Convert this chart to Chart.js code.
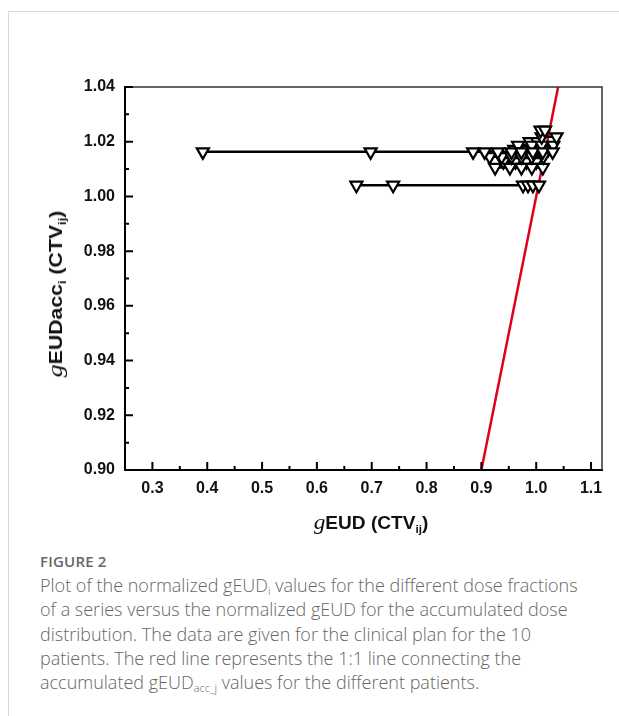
<!DOCTYPE html>
<html>
<head>
<meta charset="utf-8">
<script src="https://cdn.jsdelivr.net/npm/chart.js@4.4.0/dist/chart.umd.min.js"></script>
<style>
  html, body { margin: 0; padding: 0; background: #fff; }
  body { width: 619px; height: 716px; position: relative; overflow: hidden; }
  .card { position: absolute; left: 8px; top: 11px; width: 640px; height: 740px;
          border-top: 1px solid #d9d9d9; border-left: 1px solid #d9d9d9; }
  #wrap { position: absolute; left: 0; top: 0; width: 619px; height: 540px; }
  .ytitle { position: absolute; left: 55px; top: 294px; transform: translate(-50%, -50%) rotate(-90deg) scaleX(1.18);
            white-space: nowrap; font-family: "Liberation Sans", Arial, sans-serif; font-weight: bold; font-size: 18px; color: #111; }
  .xtitle { position: absolute; left: 371px; top: 522px; transform: translate(-50%, -50%) scaleX(1.06);
            white-space: nowrap; font-family: "Liberation Sans", Arial, sans-serif; font-weight: bold; font-size: 18px; color: #111; }
  .g { font-family: "Liberation Serif", serif; font-style: italic; font-weight: normal; font-size: 22px; }
  .ytitle sub, .xtitle sub { font-size: 11px; vertical-align: -4px; line-height: 0; }
  .fig { position: absolute; left: 40px; top: 551px; font-family: "Open Sans", sans-serif; font-size: 15px;
         color: #666; font-weight: 600; letter-spacing: 0.2px; white-space: nowrap; }
  .cap { position: absolute; left: 40px; top: 573px; width: 580px; font-family: "Open Sans", sans-serif;
         font-size: 18px; line-height: 24.3px; color: #666; font-weight: 300; letter-spacing: 0; white-space: nowrap; }
  .cap sub { font-size: 11px; vertical-align: -3px; line-height: 0; }
</style>
</head>
<body>
<div class="card"></div>
<div id="wrap"><canvas id="c" width="619" height="540"></canvas></div>
<div class="ytitle"><span class="g">g</span>EUDacc<sub>i</sub> (CTV<sub>ij</sub>)</div>
<div class="xtitle"><span class="g">g</span>EUD (CTV<sub>ij</sub>)</div>
<div class="fig">FIGURE 2</div>
<div class="cap">Plot of the normalized gEUD<sub>i</sub> values for the different dose fractions<br>of a series versus the normalized gEUD for the accumulated dose<br>distribution. The data are given for the clinical plan for the 10<br>patients. The red line represents the 1:1 line connecting the<br>accumulated gEUD<sub>acc_j</sub> values for the different patients.</div>
<script>
// Tick labels
const xTicks = [0.3, 0.4, 0.5, 0.6, 0.7, 0.8, 0.9, 1.0, 1.1];
const yTicks = [0.90, 0.92, 0.94, 0.96, 0.98, 1.00, 1.02, 1.04];

// Accumulated gEUD (y) per patient
const patients = ['P1', 'P2', 'P3', 'P4', 'P5', 'P6', 'P7', 'P8', 'P9', 'P10'];
const accGEUD = [1.0163, 1.0041, 1.0242, 1.0218, 1.0187, 1.0145, 1.0106, 1.0127, 1.0200, 1.0172];

// Fraction gEUD values (x) per patient
const p1Fractions = [0.392, 0.698, 0.885, 0.906, 0.930, 0.955, 0.973, 0.994, 1.012, 1.030];
const p2Fractions = [0.672, 0.739, 0.976, 0.985, 0.994, 1.005];
const p3Fractions = [1.008, 1.016];
const p4Fractions = [1.010, 1.037];
const p5Fractions = [0.967, 0.992, 1.010, 1.031];
const p6Fractions = [0.915, 0.937, 0.955, 0.973, 0.992, 1.013];
const p7Fractions = [0.925, 0.952, 0.973, 0.992, 1.012];
const p8Fractions = [0.940, 0.962, 0.982, 1.000];
const p9Fractions = [0.988, 1.002];
const p10Fractions = [0.960, 0.985, 1.004, 1.022];
const fractionSets = [p1Fractions, p2Fractions, p3Fractions, p4Fractions, p5Fractions,
                      p6Fractions, p7Fractions, p8Fractions, p9Fractions, p10Fractions];

// 1:1 identity line
const identityLine = [0.90, 1.04];

const datasets = patients.map((name, i) => ({
  label: name,
  data: fractionSets[i].map(x => ({ x: x, y: accGEUD[i] })),
  showLine: true,
  borderColor: '#000',
  borderWidth: 2.5,
  pointStyle: 'triangle',
  rotation: 180,
  pointRadius: 7,
  pointBorderWidth: 2.2,
  pointBackgroundColor: '#fff',
  pointBorderColor: '#000',
  order: 1
}));
datasets.push({
  label: '1:1',
  data: identityLine.map(v => ({ x: v, y: v })),
  showLine: true,
  borderColor: '#e3001b',
  borderWidth: 2.5,
  pointRadius: 0,
  order: 5
});

const tickPlugin = {
  id: 'inwardTicks',
  afterDraw(chart) {
    const ctx = chart.ctx;
    const a = chart.chartArea;
    const xs = chart.scales.x, ys = chart.scales.y;
    ctx.save();
    ctx.strokeStyle = '#333';
    ctx.lineWidth = 1.5;
    ctx.beginPath();
    ctx.moveTo(a.left, a.top); ctx.lineTo(a.right, a.top); ctx.lineTo(a.right, a.bottom);
    ctx.stroke();
    ctx.strokeStyle = '#000';
    ctx.lineWidth = 2;
    ctx.beginPath();
    xTicks.forEach(v => {
      const p = xs.getPixelForValue(v);
      ctx.moveTo(p, a.bottom); ctx.lineTo(p, a.bottom - 8);
      const m = xs.getPixelForValue(v - 0.05);
      ctx.moveTo(m, a.bottom); ctx.lineTo(m, a.bottom - 4);
    });
    yTicks.forEach((v, i) => {
      const p = ys.getPixelForValue(v);
      ctx.moveTo(a.left, p); ctx.lineTo(a.left + 8, p);
      if (i > 0) {
        const m = ys.getPixelForValue(v - 0.01);
        ctx.moveTo(a.left, m); ctx.lineTo(a.left + 4, m);
      }
    });
    ctx.stroke();
    ctx.restore();
  }
};

const tickFont = { family: '"Liberation Sans", Arial, sans-serif', weight: 'bold', size: 16 };

new Chart(document.getElementById('c'), {
  type: 'scatter',
  data: { datasets: datasets },
  options: {
    responsive: false,
    devicePixelRatio: 1,
    animation: false,
    layout: { padding: { top: 87, right: 17, left: 0, bottom: 0 } },
    plugins: { legend: { display: false }, tooltip: { enabled: false } },
    scales: {
      x: {
        type: 'linear', min: 0.25, max: 1.12,
        grid: { display: false, drawTicks: false },
        border: { display: true, color: '#000', width: 2 },
        afterBuildTicks: s => { s.ticks = xTicks.map(v => ({ value: v })); },
        afterFit: s => { s.height = 70; },
        ticks: { color: '#111', font: tickFont, padding: 9, maxRotation: 0,
                 callback: v => v.toFixed(1) }
      },
      y: {
        type: 'linear', min: 0.90, max: 1.04,
        grid: { display: false, drawTicks: false },
        border: { display: true, color: '#000', width: 2 },
        afterBuildTicks: s => { s.ticks = yTicks.map(v => ({ value: v })); },
        afterFit: s => { s.width = 125; },
        ticks: { color: '#111', font: tickFont, padding: 10,
                 callback: v => v.toFixed(2) }
      }
    }
  },
  plugins: [tickPlugin]
});
</script>
</body>
</html>
